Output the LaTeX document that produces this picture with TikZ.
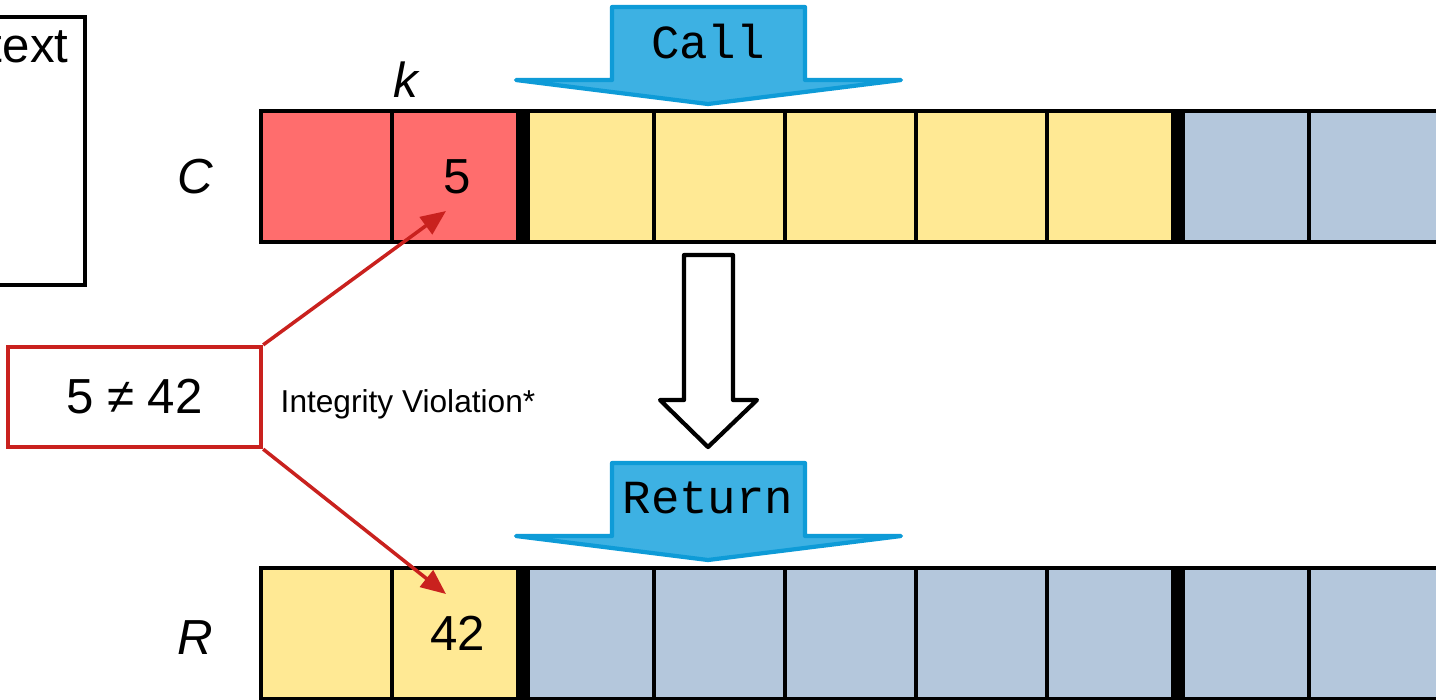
\documentclass[tikz,border=0pt]{standalone}
\usepackage{fontspec}
\setmainfont{Liberation Sans}
\setmonofont{Liberation Mono}
\usetikzlibrary{arrows.meta}

\definecolor{cellred}{HTML}{FF6D6D}
\definecolor{cellyellow}{HTML}{FFE994}
\definecolor{cellblue}{HTML}{B4C7DC}
\definecolor{callblue}{HTML}{3DB1E3}
\definecolor{callline}{HTML}{0E9BD7}
\definecolor{violred}{HTML}{C9211E}

\begin{document}
\begin{tikzpicture}[x=0.01cm, y=-0.01cm, font=\fontsize{14}{16}\selectfont,
  cell/.style={draw, line width=1pt, minimum width=1.31cm, minimum height=1.31cm, inner sep=0pt, outer sep=0pt},
  bigarrow/.style={fill=callblue, draw=callline, line width=1.2pt, line join=round},
  monolabel/.style={font=\ttfamily\fontsize{13.5}{16}\selectfont},
  violation/.style={violred, line width=1pt, -{Triangle[length=0.25cm, width=0.21cm]}}]
\useasboundingbox (0,0) rectangle (1436,699);

% context box, cut at the left
\draw[line width=1pt] (-40,17) rectangle (85,285);
\node[anchor=base east, inner sep=0pt] (ctx) at (69,62) {text};

% row C
\node (labC) at (195,177) {\itshape C};
\node (labk) at (406,80) {\itshape k};
\node[cell, fill=cellred] (c1) at (326.5,176.5) {};
\node[cell, fill=cellred] (c2) at (457.5,176.5) {5};
\node[cell, fill=cellyellow] (c3) at (588.5,176.5) {};
\node[cell, fill=cellyellow] (c4) at (719.5,176.5) {};
\node[cell, fill=cellyellow] (c5) at (850.5,176.5) {};
\node[cell, fill=cellyellow] (c6) at (981.5,176.5) {};
\node[cell, fill=cellyellow] (c7) at (1112.5,176.5) {};
\node[cell, fill=cellblue] (c8) at (1243.5,176.5) {};
\node[cell, fill=cellblue] (c9) at (1374.5,176.5) {};
\fill (516,111) rectangle (530,242);
\fill (1171,111) rectangle (1185,242);

% row R
\node (labR) at (195,638) {\itshape R};
\node[cell, fill=cellyellow] (r1) at (326.5,633.5) {};
\node[cell, fill=cellyellow] (r2) at (457.5,633.5) {42};
\node[cell, fill=cellblue] (r3) at (588.5,633.5) {};
\node[cell, fill=cellblue] (r4) at (719.5,633.5) {};
\node[cell, fill=cellblue] (r5) at (850.5,633.5) {};
\node[cell, fill=cellblue] (r6) at (981.5,633.5) {};
\node[cell, fill=cellblue] (r7) at (1112.5,633.5) {};
\node[cell, fill=cellblue] (r8) at (1243.5,633.5) {};
\node[cell, fill=cellblue] (r9) at (1374.5,633.5) {};
\fill (516,568) rectangle (530,699);
\fill (1171,568) rectangle (1185,699);

% call / return arrows
\draw[bigarrow] (612,7) -- (805,7) -- (805,80) -- (901,80) -- (708,104) -- (516,80) -- (612,80) -- cycle;
\node[monolabel] (call) at (708,42) {Call};
\draw[bigarrow] (612,463) -- (805,463) -- (805,536) -- (901,536) -- (708,560) -- (516,536) -- (612,536) -- cycle;
\node[monolabel] (ret) at (708,498) {Return};

% hollow arrow between the rows
\draw[line width=1.2pt, line join=round, fill=white] (684,255) -- (733,255) -- (733,400) -- (757,400) -- (708,447) -- (660,400) -- (684,400) -- cycle;

% the check
\node[draw=violred, line width=1.2pt, minimum width=2.53cm, minimum height=1cm, inner sep=0pt] (neq) at (134.5,397) {5 ≠ 42};
\node[anchor=west, inner sep=0pt, font=\fontsize{9}{11}\selectfont] (iv) at (280,404) {Integrity Violation*};
\coordinate (hit5) at (446,211);
\coordinate (hit42) at (446,594);
\draw[violation] (neq.north east) -- (hit5);
\draw[violation] (neq.south east) -- (hit42);
\end{tikzpicture}
\end{document}
